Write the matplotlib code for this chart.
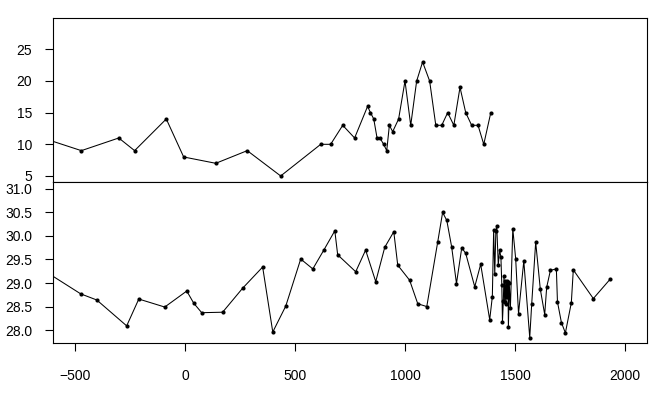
import matplotlib
matplotlib.use("Agg")
import matplotlib.pyplot as plt
from matplotlib.ticker import FormatStrFormatter

plt.rcParams["font.family"] = ["Liberation Sans", "DejaVu Sans"]

# upper series (first point lies left of the visible range)
top_x = [-700, -471, -301, -229, -85, -6, 140, 283, 435, 617, 662, 717, 771,
         830, 843, 858, 873, 886, 903, 917, 929, 944, 971, 1000, 1026, 1053,
         1080, 1112, 1140, 1167, 1194, 1222, 1250, 1276, 1303, 1332, 1358, 1390]
top_y = [11.6, 9, 11, 9, 14, 8, 7, 9, 5, 10, 10, 13, 11,
         16, 15, 14, 11, 11, 10, 9, 13, 12, 14, 20, 13, 20,
         23, 20, 13, 13, 15, 13, 19, 15, 13, 13, 10, 15]

# lower series
bot_x = [-700, -474, -401, -265, -210, -92, 8, 40, 76, 171, 262, 353, 399,
         458, 526, 581, 631, 681, 694, 776, 821, 867, 908, 949, 967, 1021,
         1058, 1099, 1149, 1171, 1190, 1212, 1234, 1258, 1276, 1317, 1344,
         1385, 1397, 1403, 1408, 1413, 1417, 1424, 1430, 1436, 1440, 1443,
         1447, 1450, 1453, 1456, 1459, 1462, 1465, 1468, 1470, 1474, 1479,
         1490, 1503, 1516, 1540, 1567, 1576, 1594, 1615, 1635, 1644, 1661,
         1688, 1693, 1711, 1729, 1756, 1765, 1856, 1934]
bot_y = [29.44, 28.77, 28.64, 28.09, 28.66, 28.49, 28.83, 28.57, 28.37, 28.38,
         28.89, 29.34, 27.96, 28.51, 29.51, 29.30, 29.70, 30.11, 29.60, 29.24,
         29.70, 29.03, 29.76, 30.09, 29.38, 29.06, 28.56, 28.50, 29.88, 30.50,
         30.33, 29.77, 28.99, 29.75, 29.63, 28.92, 29.40, 28.22, 28.71, 30.13,
         29.19, 30.10, 30.22, 29.39, 29.70, 29.55, 28.96, 28.18, 28.62, 29.16,
         28.60, 29.05, 28.55, 29.05, 28.70, 29.02, 28.06, 29.00, 28.46, 30.15,
         29.52, 28.35, 29.47, 27.84, 28.56, 29.87, 28.87, 28.33, 28.91, 29.27,
         29.30, 28.60, 28.16, 27.94, 28.58, 29.28, 28.67, 29.09]

x_ticks = [-500, 0, 500, 1000, 1500, 2000]
top_ticks = [5, 10, 15, 20, 25]
bot_ticks = [28.0, 28.5, 29.0, 29.5, 30.0, 30.5, 31.0]

fig = plt.figure(figsize=(6.64, 3.97), dpi=100)
ax_top = fig.add_axes([0.0798, 0.5408, 0.8946, 0.4131])
ax_bot = fig.add_axes([0.0798, 0.1353, 0.8946, 0.4055])

for ax, xs, ys in ((ax_top, top_x, top_y), (ax_bot, bot_x, bot_y)):
    ax.plot(xs, ys, color="black", linewidth=0.75, marker="o", markersize=3,
            markeredgewidth=0)
    ax.set_xlim(-600, 2100)
    ax.set_xticks(x_ticks)
    for s in ax.spines.values():
        s.set_linewidth(0.8)
    ax.tick_params(axis="both", direction="out", length=5.5, width=0.8,
                   labelsize=10, color="black")
    ax.tick_params(axis="x", pad=13)
    ax.tick_params(axis="y", pad=9.5)

ax_top.set_ylim(4.0, 29.9)
ax_top.set_yticks(top_ticks)
ax_top.tick_params(labelbottom=False)

ax_bot.set_ylim(27.72, 31.14)
ax_bot.set_yticks(bot_ticks)
ax_bot.yaxis.set_major_formatter(FormatStrFormatter("%.1f"))

fig.savefig("out.png", dpi=100)
